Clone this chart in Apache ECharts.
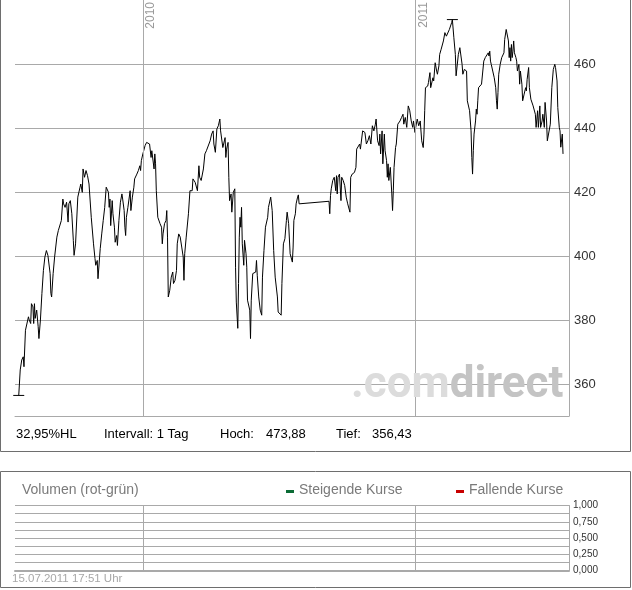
<!DOCTYPE html>
<html><head><meta charset="utf-8">
<script src="https://cdn.jsdelivr.net/npm/echarts@6/dist/echarts.min.js"></script>
<style>html,body{margin:0;padding:0;background:#fff}#c{width:632px;height:590px}</style>
</head><body><div id="c"></div>
<script>
// trading day, counted in days from 2010-01-01
const days = [
-166,-164,-162,-160,-159,-157,-155,-153,-152,-150,
-149,-147,-146,-145,-144,-142,-140,-139,-137,-135,
-133,-131,-129,-127,-126,-124,-123,-122,-120,-118,
-115,-113,-111,-109,-107,-106,-104,-102,-100,-99,
-97,-95,-93,-92,-90,-87,-84,-83,-81,-80,
-78,-76,-74,-72,-69,-66,-64,-63,-61,-60,
-57,-55,-53,-51,-49,-46,-45,-44,-43,-41,
-40,-38,-37,-35,-34,-32,-30,-28,-27,-25,
-24,-23,-22,-20,-17,-16,-14,-12,-11,-8,
-6,-4,-3,-2,0,3,5,7,9,11,
12,15,16,17,18,20,23,25,26,27,
29,31,32,33,34,36,38,40,41,43,
45,46,48,50,52,54,55,56,58,61,
63,66,67,70,71,73,75,76,78,81,
83,85,87,90,92,94,95,97,99,101,
103,104,106,107,110,111,112,114,115,116,
118,119,121,123,124,125,127,128,129,130,
131,132,133,135,136,138,139,140,142,143,
144,145,147,148,151,152,153,155,157,159,
160,162,164,167,168,171,173,175,177,180,
181,183,185,186,188,190,192,193,195,197,
200,201,202,204,205,207,208,209,249,250,
251,252,254,256,258,259,260,261,263,265,
266,268,270,272,274,277,278,280,283,285,
286,288,290,291,294,295,297,299,301,303,
305,307,309,311,312,314,316,317,318,320,
321,323,324,326,327,328,329,331,333,334,
335,336,338,339,341,344,346,348,349,351,
353,355,357,359,361,362,364,365,367,368,
369,371,373,375,376,377,378,381,382,384,
385,387,388,389,391,393,394,396,397,399,
401,402,404,406,408,410,413,414,415,416,
418,419,421,422,424,425,427,428,430,431,
433,434,437,439,440,441,442,443,445,446,
447,448,449,451,453,455,456,458,460,462,
463,464,465,466,468,470,472,473,474,475,
476,478,480,483,484,486,488,489,490,491,
492,493,494,495,496,497,499,500,501,503,
504,505,507,508,510,512,513,514,516,517,
519,520,522,523,525,526,528,529,531,532,
534,535,537,538,540,541,543,545,547,549,
551,552,554,555,557,558,559,561,562];

const values = [
356.43,364.4,367.5,368.5,365.4,376.8,377.4,381.0,380.0,378.9,
385.1,384.1,378.9,385.1,380.5,383.1,377.9,374.2,380.0,388.3,
395.5,399.7,401.7,400.2,399.7,394.5,388.3,387.2,394.5,399.7,
405.9,408.0,408.5,411.1,417.8,416.3,415.2,416.8,410.6,416.3,
417.3,413.2,404.9,400.2,403.8,418.4,421.5,422.5,419.9,427.2,
424.6,426.7,425.1,422.5,412.1,403.8,399.2,397.1,398.6,392.9,
402.3,406.9,411.1,415.2,421.5,419.9,415.2,417.8,409.5,417.3,
413.2,409.0,404.3,406.4,403.3,411.1,416.8,419.4,417.8,414.2,
409.0,406.4,412.1,415.2,420.4,414.2,418.4,421.5,424.1,425.6,
426.7,428.2,426.7,429.8,431.9,434.5,435.5,435.8,435.0,430.8,
432.9,427.2,431.9,428.8,420.4,412.1,410.1,409.0,403.8,406.9,
410.1,411.1,414.2,405.9,387.2,389.3,393.4,395.0,391.4,392.4,
395.5,403.8,406.9,405.9,402.8,399.7,392.4,400.7,405.9,413.2,
420.4,420.4,424.1,423.0,423.6,420.4,428.2,424.6,423.6,427.2,
431.9,432.9,432.4,436.0,438.1,439.1,435.0,432.4,439.7,440.7,
442.8,439.1,439.1,433.9,437.0,430.8,433.4,435.5,424.6,417.3,
419.4,413.7,419.9,421.0,396.5,385.6,377.4,391.4,405.9,412.1,
409.0,415.2,403.8,397.1,404.9,400.7,396.5,386.2,385.6,383.1,
374.2,386.2,394.5,394.5,395.0,398.6,394.0,387.2,383.1,381.5,
393.4,401.7,409.0,412.1,415.2,418.4,414.2,401.7,393.4,387.2,
382.5,382.0,381.5,391.4,403.8,405.4,411.1,413.7,410.1,400.7,
398.1,402.8,411.1,413.2,416.3,418.4,419.1,416.3,417.1,413.2,
418.9,421.0,423.6,424.6,420.4,425.1,419.4,424.6,425.6,417.3,
424.6,423.6,422.0,418.4,416.3,413.7,424.6,425.6,426.1,427.7,
433.4,433.9,435.0,433.4,439.1,439.7,438.6,435.0,436.0,437.6,
435.0,440.7,439.1,441.2,442.8,436.0,434.5,438.1,431.9,439.1,
428.8,438.1,432.9,429.8,424.6,428.8,423.6,427.7,419.4,414.2,
420.4,427.7,433.9,435.0,441.2,442.2,443.3,444.3,441.2,443.3,
440.2,446.9,445.4,442.2,440.2,442.2,438.6,440.2,442.8,442.2,
440.7,442.2,436.0,433.9,438.1,445.4,452.6,453.1,454.2,457.3,
452.6,454.7,455.7,454.7,460.4,457.8,456.8,459.4,463.0,464.6,
465.1,467.2,469.8,468.7,468.2,470.8,472.9,473.88,473.4,468.2,
463.0,456.3,455.7,463.0,465.1,465.6,459.9,456.8,458.3,457.8,
457.8,448.5,445.4,439.1,430.8,425.6,432.9,438.1,442.2,445.9,
444.3,448.5,452.6,453.1,453.7,454.2,460.9,462.0,461.5,463.5,
462.5,464.0,460.9,459.9,457.8,455.7,452.6,448.5,445.9,451.1,
456.8,459.9,462.0,463.5,467.7,470.8,471.3,467.2,462.0,465.1,
460.9,466.1,462.0,464.0,467.2,463.5,462.0,460.9,457.8,459.9,
453.7,457.8,453.7,448.5,450.6,452.6,451.6,455.2,458.9,452.6,
449.0,448.5,446.9,447.4,444.3,440.2,445.4,440.2,446.9,440.2,
442.2,444.3,440.2,448.0,442.2,436.0,436.0,441.2,452.6,458.3,
459.9,458.9,454.7,446.4,440.2,439.1,434.0,438.1,431.9];

const yearDays = [0, 365];
const yearLabels = ['2010', '2011'];
const priceTicks = [360, 380, 400, 420, 440, 460];
const volumeValues = [];
const axisDayRange = [-171, 570];
const intervalText = 'Intervall: 1 Tag';
const volumeTitle = 'Volumen (rot-grün)';
const legendUp = 'Steigende Kurse';
const legendDown = 'Fallende Kurse';
const stampText = '15.07.2011 17:51 Uhr';

const FONT = "'Liberation Sans', Arial, Helvetica, sans-serif";
const GRID = '#a9a9a9';
const base = Date.UTC(2010, 0, 1);
const ts = d => base + d * 86400000;
const de = (v, n) => v.toFixed(n).replace('.', ',');

const hi = Math.max(...values), lo = Math.min(...values);
const hlText = de((hi - lo) / lo * 100, 2) + '%HL';

const chart = echarts.init(document.getElementById('c'), null, {renderer: 'canvas'});
const yearMarks = yearDays.map((d, i) => ({xAxis: ts(d), name: yearLabels[i]}));

function txt(x, y, text, size, color, extra) {
  return Object.assign({type: 'text', x: x, y: y, silent: true, z: 50,
    style: {text: text, fontSize: size, fontFamily: FONT, fill: color, verticalAlign: 'middle', align: 'left'}}, extra || {});
}

chart.setOption({
  animation: false,
  backgroundColor: '#fff',
  grid: [
    {left: 15, right: 63, top: -1, height: 417},
    {left: 15, right: 63, top: 505.5, height: 65}
  ],
  xAxis: [
    {type: 'time', gridIndex: 0, min: ts(axisDayRange[0]), max: ts(axisDayRange[1]),
      axisLine: {show: true, lineStyle: {color: GRID}}, axisTick: {show: false},
      axisLabel: {show: false}, splitLine: {show: false}},
    {type: 'time', gridIndex: 1, min: ts(axisDayRange[0]), max: ts(axisDayRange[1]),
      axisLine: {show: true, lineStyle: {color: GRID, width: 2}}, axisTick: {show: false},
      axisLabel: {show: false}, splitLine: {show: false}}
  ],
  yAxis: [
    {type: 'value', gridIndex: 0, position: 'right', min: 350, max: 480, splitNumber: 6,
      axisLine: {show: true, lineStyle: {color: GRID}},
      axisTick: {show: false, customValues: priceTicks},
      axisLabel: {customValues: priceTicks, color: '#333', fontSize: 13, fontFamily: FONT, margin: 5},
      splitLine: {show: true, lineStyle: {color: GRID, width: 1}}},
    {type: 'value', gridIndex: 1, position: 'right', min: 0, max: 1, interval: 0.125,
      axisLine: {show: true, lineStyle: {color: GRID}}, axisTick: {show: false},
      axisLabel: {color: '#333', fontSize: 10, fontFamily: "'Liberation Sans Narrow', " + FONT, margin: 4,
        formatter: v => (Math.round(v * 1000) % 250 === 0) ? de(v, 3) : ''},
      splitLine: {show: true, lineStyle: {color: GRID, width: 1}}}
  ],
  series: [
    {type: 'line', xAxisIndex: 0, yAxisIndex: 0, showSymbol: false, symbol: 'none',
      data: days.map((d, i) => [ts(d), values[i]]),
      lineStyle: {color: '#000', width: 1}, itemStyle: {color: '#000'},
      emphasis: {disabled: true}, silent: true,
      markPoint: {symbol: 'rect', symbolSize: [11, 1], silent: true, animation: false,
        itemStyle: {color: '#000'}, label: {show: false},
        data: [{type: 'max'}, {type: 'min'}]},
      markLine: {symbol: ['none', 'none'], silent: true, animation: false,
        lineStyle: {color: GRID, width: 1, type: 'solid'},
        label: {show: true, position: 'insideEndBottom', formatter: p => p.name,
          color: '#999', fontSize: 12, fontFamily: FONT, distance: 2},
        emphasis: {disabled: true},
        data: yearMarks}},
    {type: 'line', xAxisIndex: 1, yAxisIndex: 1, data: volumeValues, silent: true, symbol: 'none',
      markLine: {symbol: ['none', 'none'], silent: true, animation: false,
        lineStyle: {color: GRID, width: 1, type: 'solid'}, label: {show: false},
        emphasis: {disabled: true},
        data: yearMarks.map(m => ({xAxis: m.xAxis}))}}
  ],
  graphic: [
    {type: 'rect', silent: true, z: 40, shape: {x: 0.5, y: -10, width: 630, height: 461.5},
      style: {fill: 'none', stroke: '#6e6e6e', lineWidth: 1}},
    {type: 'rect', silent: true, z: 40, shape: {x: 0.5, y: 471.5, width: 630, height: 116},
      style: {fill: 'none', stroke: '#6e6e6e', lineWidth: 1}},
    {type: 'text', x: 351, y: 408, silent: true, z: 45,
      style: {text: '{a|.com}{b|direct}', verticalAlign: 'bottom', align: 'left',
        rich: {a: {fontSize: 44, fontWeight: 'bold', fontFamily: 'Roboto, sans-serif', fill: '#dcdcdc'},
               b: {fontSize: 44, fontWeight: 'bold', fontFamily: 'Roboto, sans-serif', fill: '#c4c4c4'}}}},
    txt(16, 434, hlText, 13, '#000'),
    txt(104, 434, intervalText, 13, '#000'),
    txt(220, 434, 'Hoch:', 13, '#000'),
    txt(266, 434, de(hi, 2), 13, '#000'),
    txt(336, 434, 'Tief:', 13, '#000'),
    txt(372, 434, de(lo, 2), 13, '#000'),
    txt(22, 490.5, volumeTitle, 14, '#7a7a7a'),
    {type: 'rect', silent: true, z: 50, shape: {x: 286, y: 490, width: 8, height: 3}, style: {fill: '#0b6b35'}},
    txt(299, 490.5, legendUp, 14, '#7a7a7a'),
    {type: 'rect', silent: true, z: 50, shape: {x: 456, y: 490, width: 8, height: 3}, style: {fill: '#c80000'}},
    txt(469, 490.5, legendDown, 14, '#7a7a7a'),
    txt(12, 579, stampText, 11.5, '#a8a8a8')
  ]
});
</script>
</body></html>
